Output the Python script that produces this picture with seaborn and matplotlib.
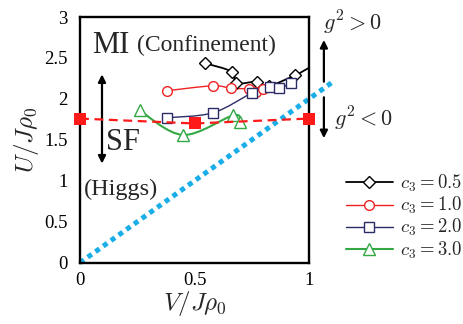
import numpy as np
import matplotlib
matplotlib.use("Agg")
import matplotlib.pyplot as plt
from matplotlib.path import Path
from matplotlib.patches import PathPatch
from matplotlib.lines import Line2D
import seaborn as sns
import pandas as pd

# ---- data -------------------------------------------------------------
# c3 = 0.5 (last point is the line end at the frame, no marker)
v_c05 = [0.547, 0.665, 0.681, 0.771, 0.825, 0.940, 1.000]
u_c05 = [2.435, 2.330, 2.190, 2.210, 2.160, 2.290, 2.380]
# c3 = 1.0
v_c10 = [0.38, 0.58, 0.66, 0.74, 0.77, 0.80]
u_c10 = [2.10, 2.16, 2.13, 2.12, 2.08, 2.12]
# c3 = 2.0
v_c20 = [0.38, 0.58, 0.75, 0.83, 0.87, 0.92]
u_c20 = [1.77, 1.83, 2.07, 2.14, 2.13, 2.19]
# c3 = 3.0
v_c30 = [0.26, 0.45, 0.67, 0.70]
u_c30 = [1.86, 1.56, 1.80, 1.72]
# boundary with filled squares
v_bound = [0.0, 0.5, 1.0]
u_bound = [1.76, 1.70, 1.76]
# g^2 = 0 line
v_g0 = [0.0, 1.11]
u_g0 = [0.0, 2.22]

xticks = [0, 0.5, 1]
yticks = [0, 0.5, 1, 1.5, 2, 2.5, 3]
xticklabels = ["0", "0.5", "1"]
yticklabels = ["0", "0.5", "1", "1.5", "2", "2.5", "3"]
labels = [r"$c_3 = 0.5$", r"$c_3 = 1.0$", r"$c_3 = 2.0$", r"$c_3 = 3.0$"]

sns.set_theme(style="white")
plt.rcParams["font.family"] = ["Liberation Serif", "DejaVu Serif"]
plt.rcParams["mathtext.fontset"] = "cm"

fig = plt.figure(figsize=(4.63, 3.24), dpi=100)
ax = fig.add_axes([0.1728, 0.1892, 0.4946, 0.7583])


def smooth_path(xs, ys):
    pts = np.column_stack([xs, ys]).astype(float)
    verts = [pts[0]]
    codes = [Path.MOVETO]
    n = len(pts)
    for i in range(n - 1):
        p0 = pts[i - 1] if i > 0 else pts[i]
        p1, p2 = pts[i], pts[i + 1]
        p3 = pts[i + 2] if i + 2 < n else pts[i + 1]
        verts += [p1 + (p2 - p0) / 6, p2 - (p3 - p1) / 6, p2]
        codes += [Path.CURVE4] * 3
    return Path(verts, codes)


series = [
    (v_c05, u_c05, "black", "D", 6.5, 1.3, True),
    (v_c10, u_c10, "#ee2222", "o", 7.0, 1.0, False),
    (v_c20, u_c20, "#2b2b66", "s", 6.5, 1.0, False),
    (v_c30, u_c30, "#33a845", "^", 9.0, 1.5, False),
]

for xs, ys, col, mk, ms, lw, skip_last in series:
    ax.add_patch(PathPatch(smooth_path(xs, ys), fill=False, edgecolor=col,
                           lw=lw, zorder=3))
    mx = xs[:-1] if skip_last else xs
    my = ys[:-1] if skip_last else ys
    ax.plot(mx, my, ls="none", marker=mk, ms=ms, mfc="white", mec=col,
            mew=1.0, zorder=4)

# dashed boundary
bdf = pd.DataFrame({"V": v_bound, "U": u_bound})
sns.lineplot(data=bdf, x="V", y="U", ax=ax, color="#ff1a1a", lw=1.6,
             linestyle=(0, (4, 2.5)), marker="s", markersize=8.5,
             markeredgewidth=0, zorder=5)
ax.lines[-1].set_clip_on(False)

# g^2 = 0 dotted line
ax.plot(v_g0, u_g0, color="#19aee8", lw=3.6, ls=(0, (1.0, 0.9)),
        zorder=2, clip_on=False, dash_capstyle="butt")

ax.set_xlim(0, 1)
ax.set_ylim(0, 3)
ax.set_xticks(xticks)
ax.set_xticklabels(xticklabels)
ax.set_yticks(yticks)
ax.set_yticklabels(yticklabels)
ax.tick_params(direction="in", length=4, width=0.8, labelsize=13.5,
               colors="black", pad=7)
ax.tick_params(axis="y", pad=9)
ax.set_xlabel(r"$V/J\rho_0$", fontsize=18, labelpad=0)
ax.set_ylabel(r"$U/J\rho_0$", fontsize=18, labelpad=2)
for s in ax.spines.values():
    s.set_color("black")
    s.set_linewidth(1.7)

# phase annotations
ax.text(0.055, 2.65, "MI", fontsize=22, va="center", ha="left")
ax.text(0.25, 2.65, "(Confinement)", fontsize=17, va="center", ha="left")
ax.text(0.115, 1.47, "SF", fontsize=22, va="center", ha="left")
ax.text(0.015, 0.89, "(Higgs)", fontsize=17.5, va="center", ha="left")
ax.annotate("", xy=(0.096, 2.30), xytext=(0.096, 1.21),
            arrowprops=dict(arrowstyle="<|-|>", color="black", lw=1.6,
                            mutation_scale=11, shrinkA=0, shrinkB=0))

# g^2 sign arrows outside the frame
ax.annotate("", xy=(1.065, 2.72), xytext=(1.065, 2.21),
            annotation_clip=False,
            arrowprops=dict(arrowstyle="-|>", color="black", lw=1.6,
                            mutation_scale=11, shrinkA=0, shrinkB=0))
ax.annotate("", xy=(1.065, 1.52), xytext=(1.065, 2.02),
            annotation_clip=False,
            arrowprops=dict(arrowstyle="-|>", color="black", lw=1.6,
                            mutation_scale=11, shrinkA=0, shrinkB=0))
ax.text(1.06, 2.93, r"$g^2 > 0$", fontsize=16, va="center", ha="left",
        clip_on=False)
ax.text(1.11, 1.76, r"$g^2 < 0$", fontsize=16, va="center", ha="left",
        clip_on=False)

handles = [Line2D([0], [0], color=c, lw=lw, marker=m, ms=ms, mfc="white",
                  mec=c, mew=1.0)
           for _, _, c, m, ms, lw, _ in series]
fig.legend(handles, labels, loc="upper left",
           bbox_to_anchor=(346 / 463, 1 - 173 / 324), frameon=False,
           fontsize=13.5, handlelength=2.5, handletextpad=0.4,
           labelspacing=0.05, borderpad=0, borderaxespad=0)

fig.savefig("out.png", dpi=100)
